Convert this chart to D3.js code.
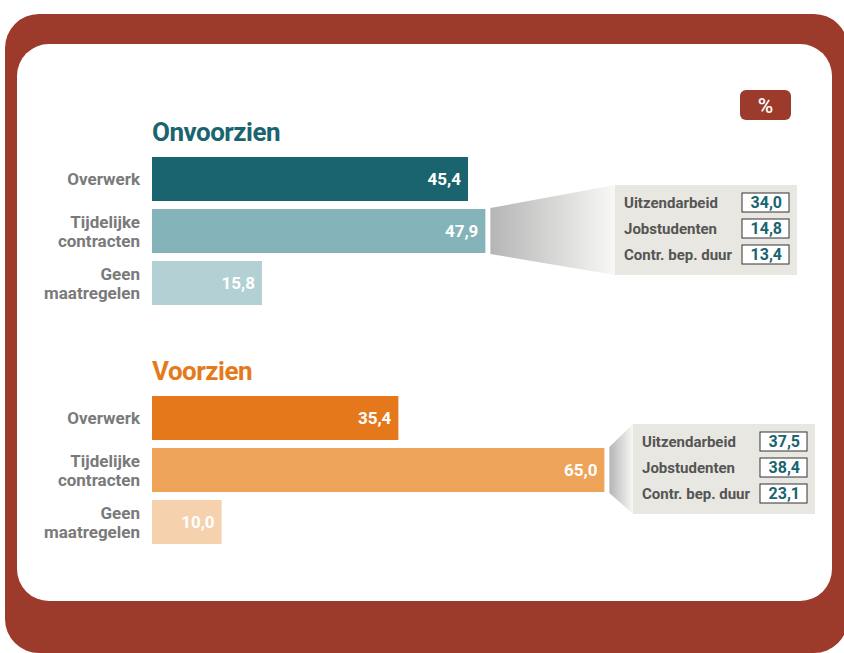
<!DOCTYPE html>
<html>
<head>
<meta charset="utf-8">
<script src="https://cdn.jsdelivr.net/npm/d3@7"></script>
<style>
  body { margin: 0; background: #fff; }
  text { font-family: Roboto, "Liberation Sans", sans-serif; font-weight: bold; }
</style>
</head>
<body>
<svg id="chart"></svg>
<script>
// categories and values
var categories = ["Overwerk", "Tijdelijke\ncontracten", "Geen\nmaatregelen"];
var groupTitles = ["Onvoorzien", "Voorzien"];
var onvoorzienValues = [45.4, 47.9, 15.8];
var voorzienValues = [35.4, 65.0, 10.0];
var detailLabels = ["Uitzendarbeid", "Jobstudenten", "Contr. bep. duur"];
var onvoorzienDetail = [34.0, 14.8, 13.4];
var voorzienDetail = [37.5, 38.4, 23.1];

var width = 844, height = 653;
var fmt = function(v) { return d3.format(".1f")(v).replace(".", ","); };

var groups = [
  { title: groupTitles[0], values: onvoorzienValues, detail: onvoorzienDetail,
    colors: ["#1a6470", "#85b3ba", "#b3d0d4"], titleColor: "#1a6470", top: 157, titleY: 141, boxX: 615 },
  { title: groupTitles[1], values: voorzienValues, detail: voorzienDetail,
    colors: ["#e5781a", "#eda458", "#f5d1ad"], titleColor: "#e57a1c", top: 396, titleY: 380, boxX: 633 }
];

var svg = d3.select("#chart").attr("width", width).attr("height", height);

// frame
svg.append("rect").attr("x", 5).attr("y", 14).attr("width", 843).attr("height", 639)
  .attr("rx", 34).attr("fill", "#9c3a2b");
svg.append("rect").attr("x", 17).attr("y", 44).attr("width", 815).attr("height", 557)
  .attr("rx", 32).attr("fill", "#ffffff");

// % badge
svg.append("rect").attr("x", 740).attr("y", 90).attr("width", 51).attr("height", 30)
  .attr("rx", 6).attr("fill", "#9c3a2b");
svg.append("text").attr("x", 765.5).attr("y", 113).attr("text-anchor", "middle")
  .attr("fill", "#fff").style("font-size", "21px").style("font-weight", "500").text("%");

var x = d3.scaleLinear().domain([0, 65]).range([152, 152 + 65 * 6.96]);

var defs = svg.append("defs");
var grad = defs.append("linearGradient").attr("id", "funnel");
grad.append("stop").attr("offset", "0%").attr("stop-color", "#b5b5b5");
grad.append("stop").attr("offset", "100%").attr("stop-color", "#f8f8f6");

groups.forEach(function(g) {
  var y = d3.scaleBand().domain(d3.range(categories.length))
    .range([g.top, g.top + 52 * 3 - 8]).paddingInner(8 / 52).paddingOuter(0);

  svg.append("text").attr("x", 152).attr("y", g.titleY)
    .attr("fill", g.titleColor).style("font-size", "26px").style("letter-spacing", "-0.5px").text(g.title);

  var rows = svg.append("g").selectAll("g").data(g.values).enter().append("g");

  rows.append("rect")
    .attr("x", x(0))
    .attr("y", function(d, i) { return y(i); })
    .attr("width", function(d) { return x(d) - x(0); })
    .attr("height", y.bandwidth())
    .attr("fill", function(d, i) { return g.colors[i]; });

  rows.append("text")
    .attr("x", function(d) { return x(d) - 7; })
    .attr("y", function(d, i) { return y(i) + y.bandwidth() / 2 + 6; })
    .attr("text-anchor", "end").attr("fill", "#fff").style("font-size", "17px")
    .text(function(d) { return fmt(d); });

  rows.append("text")
    .attr("text-anchor", "end").attr("fill", "#7a7a7a").style("font-size", "17px")
    .each(function(d, i) {
      var lines = categories[i].split("\n");
      var t = d3.select(this);
      var cy = y(i) + y.bandwidth() / 2 + 6 - (lines.length - 1) * 9.5;
      lines.forEach(function(l, k) {
        t.append("tspan").attr("x", 140).attr("y", cy + k * 19).text(l);
      });
    });

  // funnel + detail box next to the "Tijdelijke contracten" bar
  var endX = x(g.values[1]) + 5;
  var by = y(1), bh = y.bandwidth();
  var boxX = g.boxX, boxY = by - 24, boxW = 182, boxH = 90;
  svg.append("path")
    .attr("d", "M" + endX + "," + (by - 1) + "L" + boxX + "," + boxY + "L" + boxX + "," + (boxY + boxH) +
      "L" + endX + "," + (by + bh + 1) + "Z")
    .attr("fill", "url(#funnel)");
  svg.append("rect").attr("x", boxX).attr("y", boxY).attr("width", boxW).attr("height", boxH)
    .attr("fill", "#e8e7e1");

  var dy = d3.scaleBand().domain(d3.range(detailLabels.length))
    .range([boxY + 8, boxY + 8 + 26 * 3 - 7]).paddingInner(7 / 26).paddingOuter(0);

  var drows = svg.append("g").selectAll("g").data(g.detail).enter().append("g");
  drows.append("text")
    .attr("x", boxX + 9)
    .attr("y", function(d, i) { return dy(i) + dy.bandwidth() / 2 + 5.5; })
    .attr("fill", "#555").style("font-size", "15px")
    .text(function(d, i) { return detailLabels[i]; });
  drows.append("rect")
    .attr("x", boxX + 127).attr("y", function(d, i) { return dy(i); })
    .attr("width", 47).attr("height", dy.bandwidth())
    .attr("fill", "#fff").attr("stroke", "#333").attr("stroke-width", 1);
  drows.append("text")
    .attr("x", boxX + 167)
    .attr("y", function(d, i) { return dy(i) + dy.bandwidth() / 2 + 5.5; })
    .attr("text-anchor", "end").attr("fill", "#1a6470").style("font-size", "16px")
    .text(function(d) { return fmt(d); });
});
</script>
</body>
</html>
